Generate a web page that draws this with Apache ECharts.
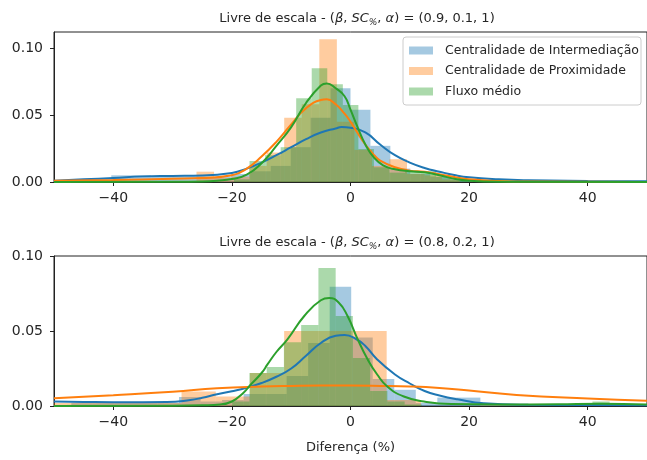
<!DOCTYPE html>
<html>
<head>
<meta charset="utf-8">
<script src="https://cdn.jsdelivr.net/npm/echarts@6/dist/echarts.min.js"></script>
<style>html,body{margin:0;padding:0;background:#fff;}#c{width:647px;height:460px;}</style>
</head>
<body>
<div id="c"></div>
<script>
// ---------- data ----------
const seriesNames = ['Centralidade de Intermediação', 'Centralidade de Proximidade', 'Fluxo médio'];
const titles = ['(0.9, 0.1, 1)', '(0.8, 0.2, 1)'];
const xTicks = [-40, -20, 0, 20, 40];
const yTicks = [0, 0.05, 0.1];
const xLabel = 'Diferença (%)';

// histogram bins: [left, right, density]
const topBlueBins = [[-47.06,-43.70,0.001],[-43.70,-40.34,0.002],[-40.34,-36.97,0.005],[-36.97,-33.61,0.005],[-33.61,-30.25,0.004],[-30.25,-26.89,0.004],[-26.89,-23.53,0.004],[-23.53,-20.17,0.004],[-20.17,-16.81,0.006],[-16.81,-13.45,0.008],[-13.45,-10.08,0.012],[-10.08,-6.72,0.026],[-6.72,-3.36,0.048],[-3.36,0,0.070],[0,3.36,0.054],[3.36,6.72,0.027],[6.72,10.08,0.010],[10.08,13.45,0.006],[13.45,16.81,0.004],[16.81,20.17,0.002]];
const topOrangeBins = [[-49.63,-46.67,0.0009],[-31.88,-28.92,0.0009],[-28.92,-25.97,0.0009],[-25.97,-23.01,0.0077],[-23.01,-20.05,0.003],[-20.05,-17.09,0.004],[-17.09,-14.13,0.012],[-14.13,-11.18,0.022],[-11.18,-8.22,0.048],[-8.22,-5.26,0.058],[-5.26,-2.30,0.1065],[-2.30,0.66,0.045],[0.66,3.61,0.024],[3.61,6.57,0.012],[6.57,9.53,0.017],[9.53,12.49,0.006],[12.49,15.45,0.005],[15.45,18.40,0.002]];
const topGreenBins = [[-19.65,-17.03,0.002],[-17.03,-14.40,0.0157],[-14.40,-11.78,0.020],[-11.78,-9.16,0.026],[-9.16,-6.54,0.0625],[-6.54,-3.92,0.085],[-3.92,-1.29,0.073],[-1.29,1.33,0.0575],[1.33,3.95,0.0246],[3.95,6.57,0.011],[6.57,9.19,0.007],[9.19,11.82,0.008],[11.82,14.44,0.008],[14.44,17.06,0.004],[17.06,19.68,0.002]];
const botBlueBins = [[-47.08,-43.45,0.002],[-43.45,-39.82,0.002],[-39.82,-36.18,0.002],[-36.18,-32.55,0.002],[-32.55,-28.92,0.002],[-28.92,-25.29,0.006],[-25.29,-21.66,0.003],[-21.66,-18.03,0.004],[-18.03,-14.40,0.008],[-14.40,-10.77,0.008],[-10.77,-7.14,0.020],[-7.14,-3.51,0.042],[-3.51,0.12,0.0795],[0.12,3.75,0.0457],[3.75,7.38,0.018],[7.38,11.01,0.0108],[11.01,14.64,0.002],[14.64,18.27,0.0056],[18.27,21.90,0.0056]];
const botOrangeBins = [[-51.55,-45.78,0.002],[-45.78,-40.02,0.002],[-40.02,-34.25,0.002],[-34.25,-28.49,0.002],[-28.49,-22.72,0.0097],[-22.72,-16.96,0.0063],[-16.96,-11.19,0.022],[-11.19,-5.43,0.050],[-5.43,0.34,0.050],[0.34,6.10,0.050],[6.10,11.87,0.004]];
const botGreenBins = [[-19.95,-17.04,0.003],[-17.04,-14.13,0.022],[-14.13,-11.23,0.026],[-11.23,-8.32,0.0425],[-8.32,-5.41,0.054],[-5.41,-2.50,0.092],[-2.50,0.40,0.060],[0.40,3.31,0.032],[3.31,6.22,0.010],[6.22,9.13,0.003],[9.13,12.03,0.001],[40.80,43.70,0.003]];

// KDE curves (x, density)
const topBlueKdeX = [-50,-45,-40,-35,-30,-25,-20,-17.5,-15,-12.5,-10,-7.5,-5,-2.5,-1.5,0,2.5,5,7.5,10,12.5,15,17.5,20,25,30,40,50];
const topBlueKdeY = [0.001,0.002,0.003,0.0042,0.0045,0.0048,0.0068,0.010,0.0145,0.020,0.026,0.032,0.037,0.040,0.041,0.0405,0.037,0.028,0.020,0.0145,0.0105,0.0077,0.0052,0.0035,0.002,0.0013,0.0008,0.0005];
const topOrangeKdeX = [-50,-40,-30,-25,-20,-17.5,-15,-12.5,-10,-7.5,-5,-4,-2.5,-1,0,1,2.5,4,5,7.5,10,12.5,15,17.5,20,25,30,50];
const topOrangeKdeY = [0.001,0.0015,0.0025,0.003,0.005,0.010,0.019,0.030,0.043,0.055,0.0612,0.0617,0.058,0.051,0.045,0.038,0.028,0.020,0.016,0.011,0.0085,0.0077,0.0058,0.0037,0.002,0.0008,0.0003,0];
const topGreenKdeX = [-50,-30,-25,-22.5,-20,-17.5,-15,-12.5,-10,-7.5,-5,-4,-2.5,-1,0,1,2.5,4,5.5,7.5,10,12.5,15,17.5,20,25,50];
const topGreenKdeY = [0,0.0001,0.0004,0.001,0.0022,0.0055,0.014,0.027,0.041,0.059,0.072,0.0736,0.070,0.064,0.054,0.043,0.028,0.018,0.0125,0.0095,0.008,0.0072,0.005,0.0025,0.001,0.0002,0];
const botBlueKdeX = [-50,-45,-40,-35,-31,-27,-25,-22.5,-20,-17.5,-15,-12.5,-10,-7.5,-5,-2.5,-1,1,2.5,4.5,7.5,10,12.5,15,18,22.5,30,40,50];
const botBlueKdeY = [0.003,0.0027,0.0025,0.0025,0.0026,0.004,0.0055,0.0078,0.0098,0.0122,0.0153,0.0195,0.025,0.0335,0.042,0.0468,0.0473,0.0445,0.040,0.031,0.021,0.015,0.010,0.007,0.0045,0.0018,0.0008,0.0006,0.0005];
const botOrangeKdeX = [-50,-40,-30,-22.5,-15,-10,-5,0,5,10,15,20,28,40,50];
const botOrangeKdeY = [0.0052,0.0072,0.0095,0.0118,0.013,0.0134,0.0136,0.0136,0.0134,0.013,0.012,0.0103,0.0074,0.005,0.0035];
const botGreenKdeX = [-50,-30,-25,-22,-20,-18,-17,-15,-14,-12.5,-10.6,-7.8,-5,-3.6,-2,-0.5,1.2,2.9,4.5,6.2,9,12.4,17,25,35,42,50];
const botGreenKdeY = [0,0.0002,0.0005,0.001,0.003,0.009,0.0135,0.022,0.0277,0.036,0.0446,0.060,0.0705,0.072,0.069,0.060,0.0446,0.031,0.021,0.013,0.0063,0.003,0.0013,0.001,0.0012,0.0015,0.001];

// ---------- styles ----------
const lineColors = ['#1f77b4', '#ff7f0e', '#2ca02c'];
const barColors = ['rgba(31,119,180,0.4)', 'rgba(255,127,14,0.4)', 'rgba(44,160,44,0.4)'];
const FONT = 'DejaVu Sans';
const TXT = '#262626';
const grids = [
  {left: 54, top: 32, width: 595, height: 150},
  {left: 54, top: 256, width: 595, height: 150}
];
const yMaxes = [0.112, 0.10];

function histItem(params, api) {
  const cs = params.coordSys;
  const a = api.coord([api.value(0), 0]);
  const b = api.coord([api.value(1), api.value(2)]);
  const x0 = Math.max(a[0], cs.x);
  const x1 = Math.min(b[0], cs.x + cs.width);
  if (x1 <= x0) return null;
  return {type: 'rect', shape: {x: x0, y: b[1], width: x1 - x0, height: a[1] - b[1]}, style: api.style()};
}
const fmtX = v => (v < 0 ? '\u2212' + Math.abs(v) : String(v));

const chart = echarts.init(document.getElementById('c'), null, {renderer: 'canvas'});
const bins = [[topBlueBins, topOrangeBins, topGreenBins], [botBlueBins, botOrangeBins, botGreenBins]];
const kdes = [
  [[topBlueKdeX, topBlueKdeY], [topOrangeKdeX, topOrangeKdeY], [topGreenKdeX, topGreenKdeY]],
  [[botBlueKdeX, botBlueKdeY], [botOrangeKdeX, botOrangeKdeY], [botGreenKdeX, botGreenKdeY]]
];
const series = [];
for (let g = 0; g < 2; g++) {
  for (let s = 0; s < 3; s++) {
    series.push({
      type: 'custom', name: seriesNames[s], xAxisIndex: g, yAxisIndex: g,
      renderItem: histItem, data: bins[g][s], encode: {x: [0, 1], y: 2},
      itemStyle: {color: barColors[s]}, z: 2 + s, silent: true
    });
    series.push({
      type: 'line', name: 'kde' + g + s, xAxisIndex: g, yAxisIndex: g,
      data: kdes[g][s][0].map((x, i) => [x, kdes[g][s][1][i]]),
      smooth: 0.5, showSymbol: false, symbol: 'none',
      lineStyle: {color: lineColors[s], width: 2}, itemStyle: {color: lineColors[s]},
      z: 10 + s, silent: true
    });
  }
}
const titleRich = {
  n: {fontFamily: FONT, fontSize: 13, color: TXT, fontWeight: 'normal'},
  i: {fontFamily: FONT, fontSize: 13, color: TXT, fontStyle: 'italic', fontWeight: 'normal'},
  sub: {fontFamily: FONT, fontSize: 9, color: TXT, fontStyle: 'italic', fontWeight: 'normal', padding: [8, 0, 0, 0]}
};
const option = {
  animation: false,
  backgroundColor: '#fff',
  title: titles.map((t, g) => ({
    text: '{n|Livre de escala - (}{i|\u03B2}{n|, }{i|SC}{sub|%}{n|, }{i|\u03B1}{n|) = ' + t + '}',
    left: 352, textAlign: 'center', top: g === 0 ? 5 : 229,
    textStyle: {rich: titleRich, fontFamily: FONT, fontSize: 13, color: TXT, fontWeight: 'normal'}
  })),
  legend: {
    data: seriesNames.map((n, i) => ({name: n, icon: 'rect', itemStyle: {color: barColors[i]}})),
    orient: 'vertical', left: 403, top: 37,
    itemWidth: 24, itemHeight: 8, itemGap: 5.5,
    padding: [6, 2, 6, 6],
    borderColor: '#ccc', borderWidth: 1, borderRadius: 3,
    backgroundColor: 'rgba(255,255,255,0.8)',
    textStyle: {fontFamily: FONT, fontSize: 12.5, color: TXT, lineHeight: 15, padding: [0, 0, 0, 7]},
    selectedMode: false
  },
  grid: grids.map(g => Object.assign({show: true, borderColor: '#222', borderWidth: 1, backgroundColor: 'transparent'}, g)),
  xAxis: [0, 1].map(g => ({
    type: 'value', gridIndex: g, min: -50, max: 50,
    name: g === 1 ? xLabel : '', nameLocation: 'middle', nameGap: 35,
    nameTextStyle: {fontFamily: FONT, fontSize: 13, color: TXT},
    axisLine: {show: true, onZero: false, lineStyle: {color: '#222', width: 1}},
    axisTick: {show: true, customValues: xTicks, length: 4, lineStyle: {color: '#222'}},
    axisLabel: {customValues: xTicks, formatter: fmtX, fontFamily: FONT, fontSize: 14, color: TXT, margin: 9},
    splitLine: {show: false}
  })),
  yAxis: [0, 1].map(g => ({
    type: 'value', gridIndex: g, min: 0, max: yMaxes[g],
    axisLine: {show: true, onZero: false, lineStyle: {color: '#222', width: 1}},
    axisTick: {show: true, customValues: yTicks, length: 4, lineStyle: {color: '#222'}},
    axisLabel: {customValues: yTicks, formatter: v => v.toFixed(2), fontFamily: FONT, fontSize: 14, color: TXT, margin: 11},
    splitLine: {show: false}
  })),
  series: series
};
chart.setOption(option);
</script>
</body>
</html>
